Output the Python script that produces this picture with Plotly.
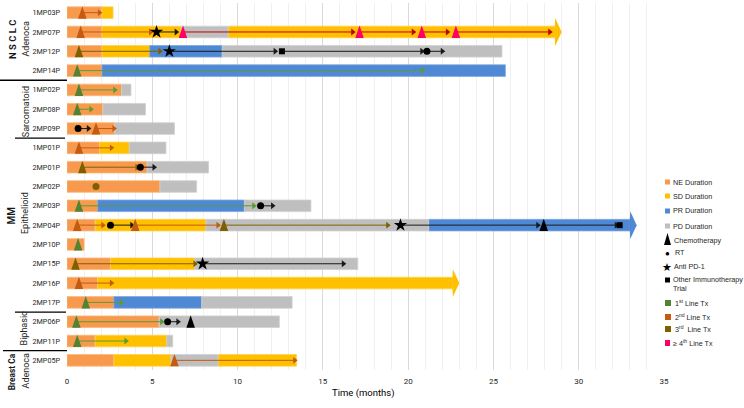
import plotly.graph_objects as go

# ---------------- data ----------------
patients = ["1MP03P", "2MP07P", "2MP12P", "2MP14P", "1MP02P", "2MP08P", "2MP09P",
            "1MP01P", "2MP01P", "2MP02P", "2MP03P", "2MP04P", "2MP10P", "2MP15P",
            "2MP16P", "2MP17P", "2MP06P", "2MP11P", "2MP05P"]
ne_end = [2.05, 2.05, 2.05, 2.05, 3.2, 2.1, 2.8, 1.9, 4.7, 5.45, 1.8, 1.65, 1.0,
          2.55, 1.8, 2.75, 5.4, 1.65, 2.75]
sd_segments = [("1MP03P", 2.05, 2.7), ("2MP07P", 2.05, 6.7), ("2MP07P", 9.45, 29.0),
               ("2MP12P", 2.05, 4.85), ("1MP01P", 1.9, 3.65), ("2MP04P", 1.65, 8.15),
               ("2MP15P", 2.55, 7.5), ("2MP16P", 1.8, 23.0), ("2MP11P", 1.65, 5.85),
               ("2MP05P", 2.75, 6.1), ("2MP05P", 8.85, 13.45)]
pr_segments = [("2MP12P", 4.85, 9.1), ("2MP14P", 2.05, 25.7), ("2MP03P", 1.8, 10.4),
               ("2MP04P", 21.2, 33.4), ("2MP17P", 2.75, 7.9)]
pd_segments = [("2MP07P", 6.7, 9.45), ("2MP12P", 9.1, 25.5), ("1MP02P", 3.2, 3.75),
               ("2MP08P", 2.1, 4.6), ("2MP09P", 2.8, 6.3), ("1MP01P", 3.65, 5.8),
               ("2MP01P", 4.7, 8.3), ("2MP02P", 5.45, 7.6), ("2MP03P", 10.4, 14.3),
               ("2MP04P", 8.15, 21.2), ("2MP15P", 7.5, 17.05), ("2MP17P", 7.9, 13.2),
               ("2MP06P", 5.4, 12.45), ("2MP11P", 5.85, 6.2), ("2MP05P", 6.1, 8.85)]
ongoing = ["2MP07P", "2MP04P", "2MP16P"]

# treatment line starts: (patient, line number, month)
tx_starts = [("1MP03P", 2, 0.9), ("2MP07P", 2, 0.8), ("2MP07P", 4, 6.8), ("2MP07P", 4, 17.15),
             ("2MP07P", 4, 20.8), ("2MP07P", 4, 22.8), ("2MP12P", 3, 0.7), ("2MP14P", 1, 0.6),
             ("1MP02P", 1, 0.7), ("2MP08P", 1, 0.6), ("2MP09P", 2, 1.7), ("1MP01P", 2, 0.7),
             ("2MP01P", 3, 0.9), ("2MP03P", 1, 0.7), ("2MP04P", 2, 0.6), ("2MP04P", 2, 4.0),
             ("2MP04P", 3, 9.2), ("2MP10P", 1, 0.65), ("2MP15P", 3, 0.5), ("2MP16P", 2, 0.7),
             ("2MP17P", 1, 1.1), ("2MP06P", 1, 0.55), ("2MP11P", 1, 0.6), ("2MP05P", 2, 6.3)]
chemo = [("2MP04P", 27.95), ("2MP06P", 7.25)]
rt = [("2MP09P", 0.65), ("2MP01P", 4.3), ("2MP03P", 11.35), ("2MP04P", 2.55),
      ("2MP06P", 5.9), ("2MP12P", 21.1)]
rt_line3 = [("2MP02P", 1.7)]
anti_pd1 = [("2MP07P", 5.25), ("2MP12P", 6.0), ("2MP04P", 19.55), ("2MP15P", 7.95)]
other_immuno = [("2MP12P", 12.6), ("2MP04P", 32.4)]

# treatment duration arrows: (patient, from, to, line number; 0 = non-line therapy)
arrows = [("1MP03P", 0.9, 1.9, 2),
          ("2MP07P", 0.8, 4.9, 2), ("2MP07P", 5.25, 6.4, 0), ("2MP07P", 6.8, 16.75, 4),
          ("2MP07P", 17.15, 20.3, 4), ("2MP07P", 20.8, 22.3, 4), ("2MP07P", 22.8, 28.3, 4),
          ("2MP12P", 0.7, 5.45, 3), ("2MP12P", 6.0, 12.2, 0), ("2MP12P", 12.6, 20.8, 0),
          ("2MP12P", 21.1, 22.0, 0),
          ("2MP14P", 0.6, 20.85, 1),
          ("1MP02P", 0.7, 2.8, 1),
          ("2MP08P", 0.6, 1.4, 1),
          ("2MP09P", 0.65, 1.25, 0), ("2MP09P", 1.7, 2.75, 2),
          ("1MP01P", 0.7, 2.6, 2),
          ("2MP01P", 0.9, 4.1, 3), ("2MP01P", 4.3, 5.1, 0),
          ("2MP03P", 0.7, 10.95, 1), ("2MP03P", 11.35, 12.05, 0),
          ("2MP04P", 0.6, 2.1, 2), ("2MP04P", 2.55, 3.8, 0), ("2MP04P", 4.0, 8.85, 2),
          ("2MP04P", 9.2, 18.8, 3), ("2MP04P", 19.55, 27.6, 0), ("2MP04P", 27.95, 32.2, 0),
          ("2MP15P", 0.5, 7.5, 3), ("2MP15P", 7.95, 16.2, 0),
          ("2MP16P", 0.7, 2.6, 2),
          ("2MP17P", 1.1, 3.2, 1),
          ("2MP06P", 0.55, 5.55, 1), ("2MP06P", 5.9, 6.5, 0),
          ("2MP11P", 0.6, 3.45, 1),
          ("2MP05P", 6.3, 13.35, 2)]

groups = [("NSCLC", "Adenoca", 0, 3), ("", "Sarcomatoid", 4, 6), ("MM", "Epithelioid", 7, 15),
          ("", "Biphasic", 16, 17), ("Breast Ca", "Adenoca", 18, 18)]

x_ticks = [0, 5, 10, 15, 20, 25, 30, 35]

# ---------------- style ----------------
C_NE, C_SD, C_PR, C_PD = "#F79A4E", "#FFC000", "#4F88D4", "#BFBFBF"
LINE_TRI = {1: "#548235", 2: "#C55A11", 3: "#7F6000", 4: "#FF0066"}
LINE_ARR = {0: "#1A1A1A", 1: "#5E9A35", 2: "#C55A11", 3: "#7F6000", 4: "#C00000"}
BAR_W = 0.6
HEAD = 0.38
FONT = "Roboto, sans-serif"
Y_RANGE = [-18.5, 0.5]

ypos = {p: -i for i, p in enumerate(patients)}

fig = go.Figure()

ne_segments = [(p, 0.0, e) for p, e in zip(patients, ne_end)]
all_segs = ne_segments + sd_segments + pr_segments + pd_segments
last_end = {p: max(s[2] for s in all_segs if s[0] == p) for p in patients}


def add_bars(segs, color, edge):
    ys, xs, bs = [], [], []
    for p, a, b in segs:
        end = b - HEAD if (p in ongoing and b == last_end[p]) else b
        ys.append(ypos[p]); bs.append(a); xs.append(end - a)
    fig.add_trace(go.Bar(orientation="h", y=ys, x=xs, base=bs, width=BAR_W,
                         marker=dict(color=color, line=dict(color=edge, width=0.8)),
                         showlegend=False, hoverinfo="skip"))


add_bars(ne_segments, C_NE, "#FAB97A")
add_bars(sd_segments, C_SD, "#FFD24D")
add_bars(pr_segments, C_PR, "#7FA8E0")
add_bars(pd_segments, C_PD, "#D0D0D0")

# arrow heads on ongoing bars
for p in ongoing:
    seg = [s for s in all_segs if s[0] == p and s[2] == last_end[p]][0]
    col = C_SD if seg in sd_segments else C_PR
    y = ypos[p]; e = seg[2]
    fig.add_trace(go.Scatter(x=[e - HEAD - 0.02, e - HEAD, e, e - HEAD, e - HEAD - 0.02],
                             y=[y + BAR_W / 2, y + 0.72, y, y - 0.72, y - BAR_W / 2],
                             fill="toself", fillcolor=col, mode="lines", line=dict(width=0),
                             showlegend=False, hoverinfo="skip"))

# arrow lines
for k, col in LINE_ARR.items():
    xs, ys, hx, hy = [], [], [], []
    for p, a, b, kk in arrows:
        if kk != k:
            continue
        xs += [a, b, None]; ys += [ypos[p], ypos[p], None]
        hx.append(b); hy.append(ypos[p])
    fig.add_trace(go.Scatter(x=xs, y=ys, mode="lines", line=dict(color=col, width=1),
                             showlegend=False, hoverinfo="skip"))
    fig.add_trace(go.Scatter(x=hx, y=hy, mode="markers",
                             marker=dict(symbol="triangle-right", size=6, color=col),
                             showlegend=False, hoverinfo="skip"))


def tri_trace(points, color):
    xs, ys = [], []
    for p, t in points:
        y = ypos[p]
        xs += [t - 0.25, t + 0.25, t, t - 0.25, None]
        ys += [y - 0.31, y - 0.31, y + 0.33, y - 0.31, None]
    fig.add_trace(go.Scatter(x=xs, y=ys, fill="toself", fillcolor=color, mode="lines",
                             line=dict(width=0), showlegend=False, hoverinfo="skip"))


for ln, col in LINE_TRI.items():
    tri_trace([(p, t) for p, l, t in tx_starts if l == ln], col)
tri_trace(chemo, "#000000")


def mark(points, symbol, size, color):
    fig.add_trace(go.Scatter(x=[t for p, t in points], y=[ypos[p] for p, t in points],
                             mode="markers", marker=dict(symbol=symbol, size=size, color=color,
                                                         line=dict(width=0)),
                             showlegend=False, hoverinfo="skip"))


mark(rt, "circle", 7, "#000000")
mark(rt_line3, "circle", 7, LINE_TRI[3])
mark(anti_pd1, "star", 10, "#000000")
mark(other_immuno, "square", 6, "#000000")

# ---------------- layout ----------------
L, R, T, B = 67, 80, 3, 38
W, H = 744, 408
PW, PH = W - L - R, H - T - B


def px(p):
    return (p - L) / PW


def py(p):
    return (H - B - p) / PH


def ydata_to_paper(y):
    return (y - Y_RANGE[0]) / (Y_RANGE[1] - Y_RANGE[0])


shapes, annos = [], []

# group separators & labels
sep_x = [(0, 67), (15, 65), (15, 66), (3, 67)]
for (g1, g2, a, b), sx in zip(groups[:-1], sep_x):
    yb = ydata_to_paper(-b - 0.5)
    shapes.append(dict(type="line", xref="paper", yref="paper", x0=px(sx[0]), x1=px(sx[1]),
                       y0=yb, y1=yb, line=dict(color="#000000", width=1.3)))

label_pos = {"NSCLC": (12, -1.37), "Adenoca0": (26.5, -1.37), "Sarcomatoid": (26, -5.15),
             "MM": (11, -10.5), "Epithelioid": (24.5, -10.4), "Biphasic": (24, -16.35),
             "Breast Ca": (12, -18.62), "Adenoca18": (25.5, -18.55)}
bold_size = {"NSCLC": 9.5, "MM": 10, "Breast Ca": 8.4}
for g1, g2, a, b in groups:
    if g1:
        txt = "N S C L C" if g1 == "NSCLC" else g1
        x, y = label_pos[g1]
        annos.append(dict(xref="paper", yref="paper", x=px(x), y=ydata_to_paper(y),
                          text="<b>%s</b>" % txt, textangle=-90, showarrow=False,
                          xanchor="center", yanchor="middle",
                          font=dict(family=FONT, size=bold_size[g1], color="#1A1A1A")))
    key2 = g2 + (str(a) if g2 == "Adenoca" else "")
    x, y = label_pos[key2]
    annos.append(dict(xref="paper", yref="paper", x=px(x), y=ydata_to_paper(y), text=g2,
                      textangle=-90, showarrow=False, xanchor="center", yanchor="middle",
                      font=dict(family=FONT, size=9, color="#262626")))

# x-axis title
annos.append(dict(xref="paper", yref="paper", x=px(363), y=py(393), text="Time (months)",
                  showarrow=False, xanchor="center", yanchor="middle",
                  font=dict(family=FONT, size=9.5, color="#000000")))

# legend (manual)
LEG_FONT = dict(family="Liberation Sans, Arial, sans-serif", size=7.2, color="#262626")
leg_box = [("NE Duration", 182, C_NE), ("SD Duration", 196, C_SD), ("PR Duration", 211, C_PR),
           ("PD Duration", 226, C_PD)]
for txt, yy, col in leg_box:
    shapes.append(dict(type="rect", xref="paper", yref="paper", x0=px(665), x1=px(670),
                       y0=py(yy + 2.5), y1=py(yy - 2.5), fillcolor=col, line=dict(width=0)))
    annos.append(dict(xref="paper", yref="paper", x=px(670.5), y=py(yy), text=txt, xanchor="left",
                      yanchor="middle", showarrow=False, font=LEG_FONT))
shapes.append(dict(type="path", xref="paper", yref="paper",
                   path="M %f,%f L %f,%f L %f,%f Z" % (px(664), py(245), px(671), py(245),
                                                       px(667.5), py(233)),
                   fillcolor="#000000", line=dict(width=0)))
annos.append(dict(xref="paper", yref="paper", x=px(671.5), y=py(240), text="Chemotherapy",
                  xanchor="left", yanchor="middle", showarrow=False, font=LEG_FONT))
annos.append(dict(xref="paper", yref="paper", x=px(667.5), y=py(252), text="●", xanchor="center",
                  yanchor="middle", showarrow=False, font=dict(size=8, color="#000")))
annos.append(dict(xref="paper", yref="paper", x=px(672.5), y=py(252), text="RT",
                  xanchor="left", yanchor="middle", showarrow=False, font=LEG_FONT))
annos.append(dict(xref="paper", yref="paper", x=px(667), y=py(266), text="★", xanchor="center",
                  yanchor="middle", showarrow=False, font=dict(size=11, color="#000")))
annos.append(dict(xref="paper", yref="paper", x=px(672), y=py(266), text="Anti PD-1",
                  xanchor="left", yanchor="middle", showarrow=False, font=LEG_FONT))
shapes.append(dict(type="rect", xref="paper", yref="paper", x0=px(665), x1=px(670),
                   y0=py(282.5), y1=py(277.5), fillcolor="#000000", line=dict(width=0)))
annos.append(dict(xref="paper", yref="paper", x=px(670.5), y=py(284),
                  text="Other Immunotherapy<br>Trial", xanchor="left", yanchor="middle",
                  align="left", showarrow=False, font=LEG_FONT))
leg_tx = [("1<sup>st</sup> Line Tx", 303, 1), ("2<sup>nd</sup> Line Tx", 317, 2),
          ("3<sup>rd</sup>  Line Tx", 329, 3), ("≥ 4<sup>th</sup> Line Tx", 343, 4)]
for txt, yy, ln in leg_tx:
    w = 6 if ln < 4 else 5
    shapes.append(dict(type="rect", xref="paper", yref="paper", x0=px(665), x1=px(665 + w),
                       y0=py(yy + 3), y1=py(yy - 3), fillcolor=LINE_TRI[ln], line=dict(width=0)))
    annos.append(dict(xref="paper", yref="paper", x=px(673 if ln < 4 else 670.5), y=py(yy),
                      text=txt, xanchor="left", yanchor="middle", showarrow=False, font=LEG_FONT))

fig.update_layout(
    width=W, height=H, margin=dict(l=L, r=R, t=T, b=B, autoexpand=False),
    paper_bgcolor="white", plot_bgcolor="white", barmode="overlay",
    showlegend=False, shapes=shapes, annotations=annos,
    xaxis=dict(range=[0, 35], tickvals=x_ticks, ticktext=[str(v) for v in x_ticks],
               showgrid=True, gridcolor="#D9D9D9", gridwidth=1, zeroline=False,
               minor=dict(dtick=1, showgrid=True, gridcolor="#F0F0F0", gridwidth=1),
               showline=False, ticks="", ticklabelstandoff=5, automargin=False,
               tickfont=dict(family=FONT, size=8, color="#262626")),
    yaxis=dict(range=Y_RANGE, tickvals=[ypos[p] for p in patients], ticktext=patients,
               showgrid=False, zeroline=False, showline=False, ticks="", ticklabelstandoff=6,
               automargin=False, tickfont=dict(family=FONT, size=7.2, color="#262626")),
)

fig.write_html("out.html", config={"displayModeBar": False},
               post_script="document.body.style.margin='0px';")
